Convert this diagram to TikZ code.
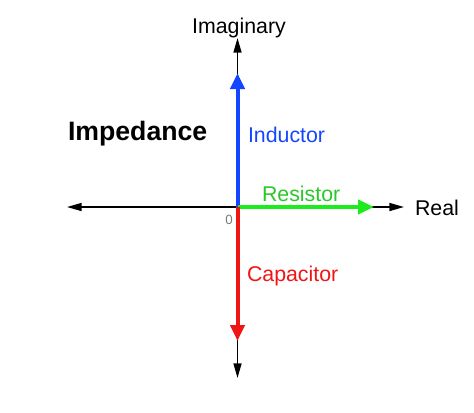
\documentclass[tikz,border=0pt]{standalone}
\usepackage{fontspec}
\setmainfont{Liberation Sans}
\usepackage{tikz}
\usetikzlibrary{arrows.meta}
\definecolor{c1446ff}{RGB}{20,70,255}
\definecolor{c1eeb1e}{RGB}{30,235,30}
\definecolor{c28c828}{RGB}{40,200,40}
\definecolor{cf01414}{RGB}{240,20,20}
\definecolor{c787878}{RGB}{120,120,120}

\begin{document}
\begin{tikzpicture}[y=0.75pt, x=0.75pt, yscale=-1, inner sep=0pt, outer sep=0pt,
  axis/.style={draw=black,line width=1.2pt,{Triangle[length=11pt,width=6pt]}-{Triangle[length=11pt,width=6pt]}},
  phasor/.style={line width=3pt,-{Triangle[length=12pt,width=10.5pt]}},
  lbl/.style={font=\fontsize{16}{19}\selectfont}]
  \useasboundingbox (0,0) rectangle (474,412);
  % axes
  \coordinate (origin) at (237.5,207);
  \coordinate (top) at (237.5,38);
  \coordinate (bottom) at (237.5,378);
  \coordinate (left) at (67,207);
  \coordinate (right) at (404,207);
  \path[axis] (bottom) -- (top);
  \path[axis] (left) -- (right);
  % phasors
  \coordinate (tipL) at (237.5,73);
  \coordinate (tipR) at (374,207);
  \coordinate (tipC) at (237.5,341);
  \path[phasor,draw=c1446ff] (origin) -- (tipL);
  \path[phasor,draw=c1eeb1e] (origin) -- (tipR);
  \path[phasor,draw=cf01414] (origin) -- (tipC);
  % labels
  \path (239,33) node[anchor=base,lbl] (imag) {Imaginary};
  \path (415,215) node[anchor=base west,lbl] (real) {Real};
  \path (68,140) node[anchor=base west,font=\fontsize{20}{24}\selectfont\bfseries] (title) {Impedance};
  \path (248,142) node[anchor=base west,lbl,text=c1446ff] (ind) {Inductor};
  \path (262,201) node[anchor=base west,lbl,text=c28c828] (res) {Resistor};
  \path (247,281) node[anchor=base west,lbl,text=cf01414] (cap) {Capacitor};
  \path (229,224) node[anchor=base,font=\fontsize{10}{12}\selectfont,text=c787878] (zero) {0};
\end{tikzpicture}
\end{document}
